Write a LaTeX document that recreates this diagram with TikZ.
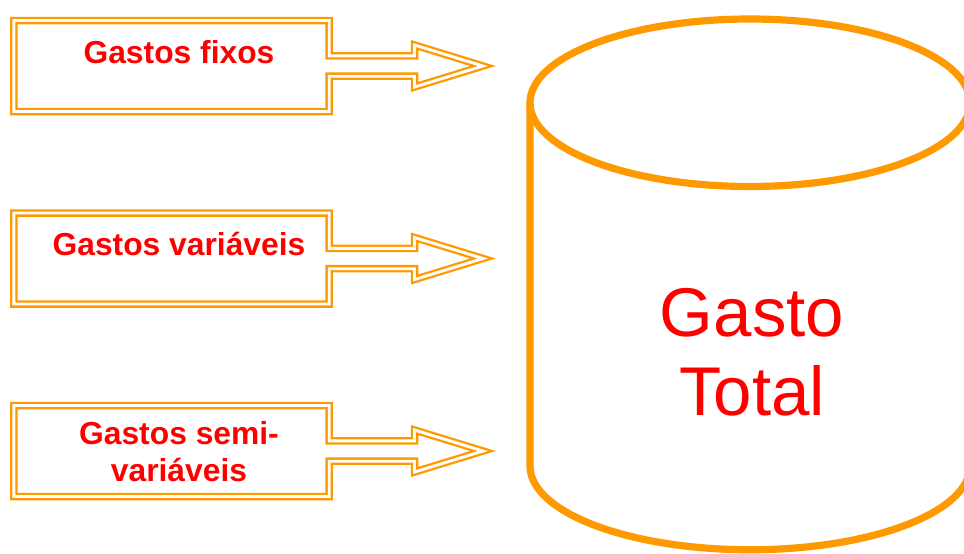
\documentclass[tikz,border=0pt]{standalone}
\usepackage{fontspec}
\setmainfont{Liberation Sans}
\definecolor{borange}{HTML}{FF9900}
\definecolor{bred}{HTML}{FF0000}
\tikzset{
  dblline/.style={draw=borange, line width=2.3pt, double=white, double distance=2.9pt, line join=miter},
  cylline/.style={draw=borange, line width=7.2pt},
  boxtext/.style={text=bred, font=\fontsize{31.8}{37}\selectfont\bfseries, align=center, inner sep=0pt},
  bigtext/.style={text=bred, font=\fontsize{69}{79}\selectfont, align=center, inner sep=0pt}
}
\newcommand\arrowshape[1]{%
  \draw[dblline] (13.8,#1-45.5) -- (329.2,#1-45.5) -- (329.2,#1-10.2) -- (414.5,#1-10.2)
    -- (414.5,#1-21) -- (483,#1) -- (414.5,#1+21) -- (414.5,#1+10.2) -- (329.2,#1+10.2)
    -- (329.2,#1+45.5) -- (13.8,#1+45.5) -- cycle;}
\begin{document}
\begin{tikzpicture}[x=1pt,y=-1pt]
\useasboundingbox (0,0) rectangle (964,554);
% cylinder
\draw[cylline] (750,102.75) ellipse [x radius=220, y radius=83.75];
\draw[cylline] (530,102.75) -- (530,466) arc[start angle=180, end angle=0, x radius=220, y radius=83.75] -- (970,102.75);
\node[bigtext] (total) at (752,352) {Gasto\\Total};
% arrow boxes
\arrowshape{66}
\arrowshape{258.5}
\arrowshape{451}
\node[boxtext, anchor=base] (t1) at (179,63) {Gastos fixos};
\node[boxtext, anchor=base] (t2) at (179,255) {Gastos variáveis};
\node[boxtext] (t3) at (179,452) {Gastos semi-\\variáveis};
\end{tikzpicture}
\end{document}
